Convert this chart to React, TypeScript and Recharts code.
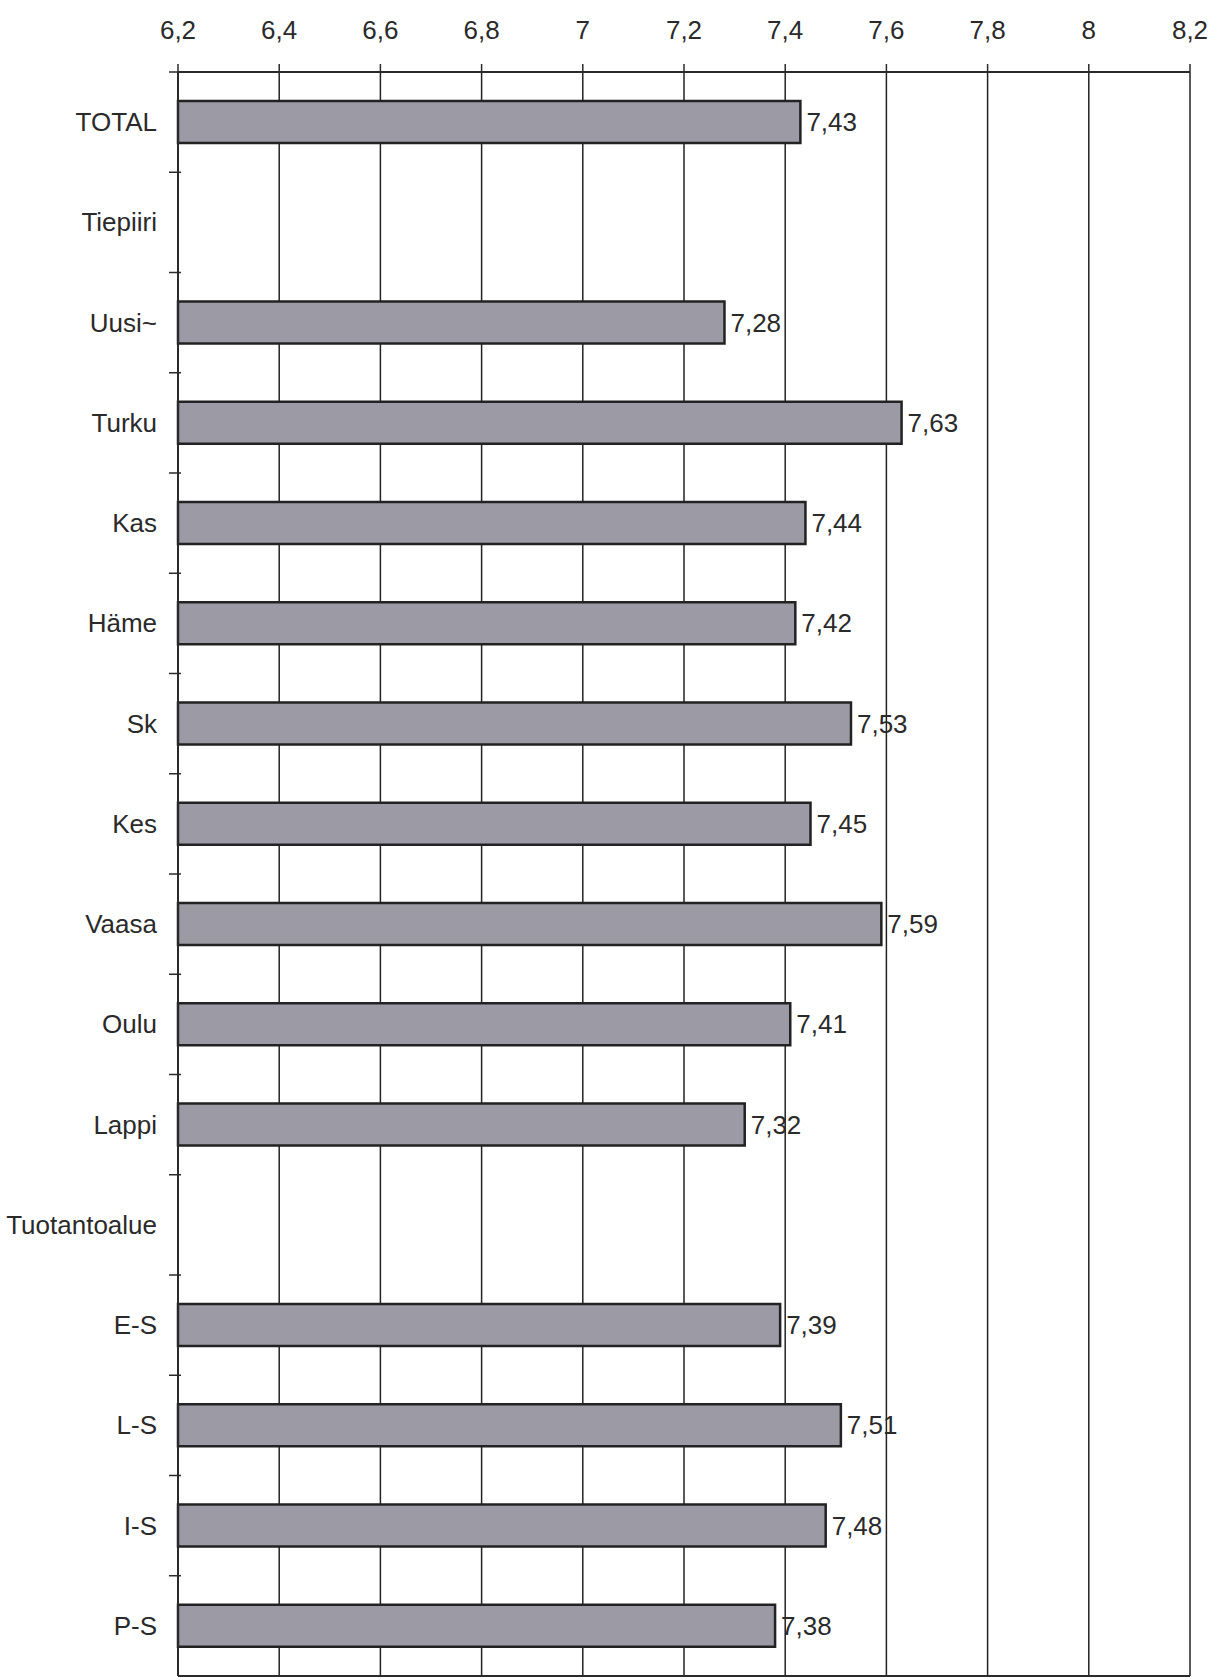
import { BarChart, Bar, XAxis, YAxis, CartesianGrid, LabelList } from 'recharts'

const categories = [
  'TOTAL', 'Tiepiiri', 'Uusi~', 'Turku', 'Kas', 'Häme', 'Sk', 'Kes',
  'Vaasa', 'Oulu', 'Lappi', 'Tuotantoalue', 'E-S', 'L-S', 'I-S', 'P-S',
]
const values: (number | null)[] = [
  7.43, null, 7.28, 7.63, 7.44, 7.42, 7.53, 7.45,
  7.59, 7.41, 7.32, null, 7.39, 7.51, 7.48, 7.38,
]
const xTicks = [6.2, 6.4, 6.6, 6.8, 7, 7.2, 7.4, 7.6, 7.8, 8, 8.2]

const data = categories.map((name, i) => ({ name, value: values[i] }))

const W = 1210
const H = 1680
const TOP_AXIS_H = 72
const LEFT_AXIS_W = 178
const BOTTOM_AXIS_H = 4
const BAND = (H - TOP_AXIS_H - BOTTOM_AXIS_H) / categories.length
const FONT = '"Liberation Sans", Arial, Helvetica, sans-serif'
const INK = '#2a2a2a'
const FS = 26

const fmt = (v: number) => String(v).replace('.', ',')

// eslint-disable-next-line @typescript-eslint/no-explicit-any
function TopTick({ x, y, payload }: any) {
  return (
    <text x={x} y={y - 25} textAnchor="middle" fontSize={FS} fill={INK} fontFamily={FONT}>
      {fmt(payload.value)}
    </text>
  )
}

// eslint-disable-next-line @typescript-eslint/no-explicit-any
function CategoryTick({ x, y, payload }: any) {
  return (
    <g>
      <line x1={x - 9} x2={x + 3} y1={y - BAND / 2} y2={y - BAND / 2} stroke={INK} strokeWidth={1.5} />
      <text x={x - 21} y={y} dy={9} textAnchor="end" fontSize={FS} fill={INK} fontFamily={FONT}>
        {payload.value}
      </text>
    </g>
  )
}

export default function App() {
  return (
    <div style={{ position: 'absolute', left: 0, top: 0, width: W, height: H, background: '#fff' }}>
      <BarChart
        width={W}
        height={H}
        data={data}
        layout="vertical"
        margin={{ top: 0, right: 20, bottom: 0, left: 0 }}
        barCategoryGap={0}
      >
        <CartesianGrid xAxisId="top" horizontal={false} stroke="#222" strokeWidth={1.5} />
        <XAxis
          xAxisId="top"
          type="number"
          orientation="top"
          domain={[6.2, 8.2]}
          ticks={xTicks}
          height={TOP_AXIS_H}
          tickSize={8}
          tickMargin={0}
          axisLine={{ stroke: INK, strokeWidth: 2 }}
          tickLine={{ stroke: INK, strokeWidth: 1.5 }}
          tick={<TopTick />}
          interval={0}
        />
        <XAxis
          xAxisId="bottom"
          type="number"
          orientation="bottom"
          domain={[6.2, 8.2]}
          ticks={xTicks}
          height={BOTTOM_AXIS_H}
          tick={false}
          tickLine={false}
          axisLine={{ stroke: INK, strokeWidth: 2 }}
        />
        <YAxis
          type="category"
          dataKey="name"
          width={LEFT_AXIS_W}
          tickSize={0}
          tickMargin={0}
          tickLine={false}
          axisLine={{ stroke: INK, strokeWidth: 2 }}
          tick={<CategoryTick />}
          interval={0}
        />
        <Bar
          xAxisId="top"
          dataKey="value"
          barSize={42}
          fill="#9c9ba5"
          stroke="#222"
          strokeWidth={2.5}
          isAnimationActive={false}
        >
          <LabelList
            dataKey="value"
            position="right"
            offset={6}
            formatter={(v: unknown) => (v == null ? '' : Number(v).toFixed(2).replace('.', ','))}
            style={{ fill: INK, fontSize: FS, fontFamily: FONT }}
          />
        </Bar>
      </BarChart>
    </div>
  )
}
